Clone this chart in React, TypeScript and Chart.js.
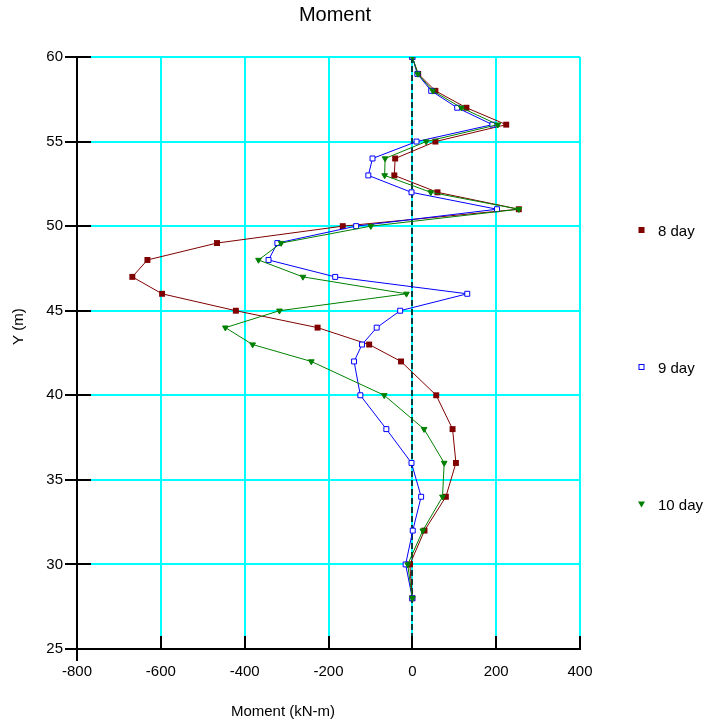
import { useEffect, useRef } from "react";
import { Chart, registerables } from "chart.js";
Chart.register(...registerables);

const depths = [60, 59, 58, 57, 56, 55, 54, 53, 52, 51, 50, 49, 48, 47, 46, 45, 44, 43, 42, 40, 38, 36, 34, 32, 30, 28];
const day8 = [0, 14, 55, 129, 224, 55, -41, -43, 60, 254, -166, -466, -632, -668, -597, -421, -226, -103, -27, 57, 96, 104, 80, 29, -6, 0];
const day9 = [0, 12, 45, 107, 191, 10, -95, -105, -2, 202, -134, -322, -343, -184, 131, -29, -85, -120, -139, -124, -62, -2, 21, 1, -16, 0];
const day10 = [0, 13, 49, 117, 204, 33, -65, -66, 44, 254, -99, -313, -367, -261, -14, -317, -446, -381, -241, -67, 28, 76, 72, 25, -11, 0];
const seriesLabels = ["8 day", "9 day", "10 day"];
const xTicks = [-800, -600, -400, -200, 0, 200, 400];
const yTicks = [25, 30, 35, 40, 45, 50, 55, 60];
const chartTitle = "Moment";
const xTitle = "Moment (kN-m)";
const yTitle = "Y (m)";

const FONT = '"Liberation Sans", Arial, sans-serif';
const RED = "#800000";
const BLUE = "#0000FF";
const GREEN = "#008000";

const toPts = (vals: number[]) => vals.map((v, i) => ({ x: v, y: depths[i] }));

function drawMarker(ctx: CanvasRenderingContext2D, kind: number, cx: number, cy: number) {
  ctx.save();
  ctx.lineWidth = 1;
  if (kind === 0) {
    ctx.fillStyle = RED;
    ctx.fillRect(cx - 3, cy - 3, 6, 6);
  } else if (kind === 1) {
    ctx.strokeStyle = BLUE;
    ctx.fillStyle = "#fff";
    ctx.fillRect(cx - 2.5, cy - 2.5, 5, 5);
    ctx.strokeRect(cx - 2.5, cy - 2.5, 5, 5);
  } else {
    ctx.fillStyle = GREEN;
    ctx.beginPath();
    ctx.moveTo(cx - 3.5, cy - 2.5);
    ctx.lineTo(cx + 3.5, cy - 2.5);
    ctx.lineTo(cx, cy + 3.5);
    ctx.closePath();
    ctx.fill();
  }
  ctx.restore();
}

const overlay = {
  id: "overlay",
  beforeDatasetsDraw(chart: any) {
    const { ctx, chartArea, scales } = chart;
    const x0 = Math.round(scales.x.getPixelForValue(0));
    ctx.save();
    ctx.strokeStyle = "#000";
    ctx.lineWidth = 1.5;
    ctx.setLineDash([6, 3]);
    ctx.beginPath();
    ctx.moveTo(x0, chartArea.top);
    ctx.lineTo(x0, chartArea.bottom);
    ctx.stroke();
    ctx.restore();
  },
  afterDraw(chart: any) {
    const { ctx, chartArea, scales } = chart;
    const { left, bottom } = chartArea;
    ctx.save();
    ctx.strokeStyle = "#000";
    ctx.lineWidth = 2;
    ctx.beginPath();
    yTicks.forEach((t) => {
      const py = Math.round(scales.y.getPixelForValue(t));
      ctx.moveTo(left - 12, py);
      ctx.lineTo(left + 14, py);
    });
    xTicks.forEach((t) => {
      const px = Math.round(scales.x.getPixelForValue(t));
      ctx.moveTo(px, bottom - 13);
      ctx.lineTo(px, bottom);
    });
    ctx.moveTo(left, bottom);
    ctx.lineTo(left, bottom + 12);
    ctx.stroke();

    ctx.fillStyle = "#000";
    ctx.font = `20px ${FONT}`;
    ctx.textAlign = "center";
    ctx.textBaseline = "alphabetic";
    ctx.fillText(chartTitle, 335, 21);

    ctx.font = `15px ${FONT}`;
    ctx.fillText(xTitle, 283, 716);

    ctx.save();
    ctx.translate(23, 345);
    ctx.rotate(-Math.PI / 2);
    ctx.textAlign = "left";
    ctx.fillText(yTitle, 0, 0);
    ctx.restore();

    const legendY = [230, 367, 504];
    seriesLabels.forEach((lab, i) => {
      drawMarker(ctx, i, 641.5, legendY[i]);
      ctx.fillStyle = "#000";
      ctx.textAlign = "left";
      ctx.font = `15px ${FONT}`;
      ctx.fillText(lab, 658, legendY[i] + 5.5);
    });
    ctx.restore();
  },
};

export default function App() {
  const ref = useRef<HTMLCanvasElement>(null);
  useEffect(() => {
    if (!ref.current) return;
    const chart = new Chart(ref.current, {
      type: "scatter",
      data: {
        datasets: [
          {
            label: seriesLabels[0],
            data: toPts(day8),
            showLine: true,
            borderColor: RED,
            backgroundColor: RED,
            borderWidth: 1,
            pointStyle: "rect",
            pointRadius: 4.2,
            pointBorderWidth: 0,
            pointBackgroundColor: RED,
            order: 3,
          },
          {
            label: seriesLabels[1],
            data: toPts(day9),
            showLine: true,
            borderColor: BLUE,
            backgroundColor: "#fff",
            borderWidth: 1,
            pointStyle: "rect",
            pointRadius: 3.5,
            pointBorderWidth: 1,
            pointBorderColor: BLUE,
            pointBackgroundColor: "#fff",
            order: 2,
          },
          {
            label: seriesLabels[2],
            data: toPts(day10),
            showLine: true,
            borderColor: GREEN,
            backgroundColor: GREEN,
            borderWidth: 1,
            pointStyle: "triangle",
            rotation: 180,
            pointRadius: 3.3,
            pointBorderWidth: 1,
            pointBorderColor: GREEN,
            pointBackgroundColor: GREEN,
            order: 1,
          } as any,
        ],
      },
      options: {
        animation: false,
        responsive: false,
        devicePixelRatio: 1,
        layout: { padding: { top: 57, right: 129, left: 0, bottom: 0 } },
        plugins: {
          legend: { display: false },
          title: { display: false },
          tooltip: { enabled: false },
        },
        scales: {
          x: {
            type: "linear",
            min: -800,
            max: 400,
            afterFit: (s: any) => {
              s.height = 76;
            },
            afterBuildTicks: (s: any) => {
              s.ticks = xTicks.map((v) => ({ value: v }));
            },
            ticks: {
              color: "#000",
              font: { family: FONT, size: 15 },
              padding: 14,
              maxRotation: 0,
            },
            grid: { color: "#00FFFF", lineWidth: 2, drawTicks: false },
            border: { color: "#000", width: 2 },
          },
          y: {
            type: "linear",
            min: 25,
            max: 60,
            afterFit: (s: any) => {
              s.width = 77;
            },
            afterBuildTicks: (s: any) => {
              s.ticks = yTicks.map((v) => ({ value: v }));
            },
            ticks: {
              color: "#000",
              font: { family: FONT, size: 15 },
              padding: 14,
            },
            grid: { color: "#00FFFF", lineWidth: 2, drawTicks: false },
            border: { color: "#000", width: 2 },
          },
        },
      },
      plugins: [overlay],
    });
    return () => chart.destroy();
  }, []);
  return (
    <div style={{ position: "absolute", left: 0, top: 0, width: 709, height: 725, background: "#fff" }}>
      <canvas ref={ref} width={709} height={725} style={{ width: 709, height: 725, display: "block" }} />
    </div>
  );
}
